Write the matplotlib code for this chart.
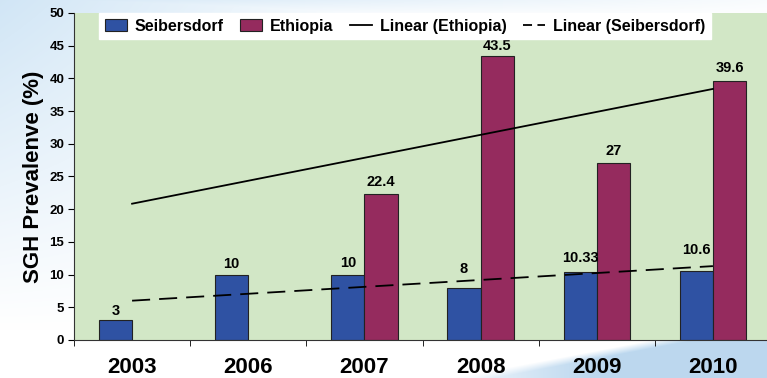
import matplotlib.pyplot as plt
import matplotlib.patches as mpatches
import matplotlib.lines as mlines
import numpy as np

years = ['2003', '2006', '2007', '2008', '2009', '2010']
seibersdorf = [3, 10, 10, 8, 10.33, 10.6]
ethiopia = [np.nan, np.nan, 22.4, 43.5, 27, 39.6]
seib_labels = ['3', '10', '10', '8', '10.33', '10.6']
eth_labels = ['', '', '22.4', '43.5', '27', '39.6']

# label offsets above the bars (points), some nudged to clear the trend line
seib_pad = [2, 2.5, 3.5, 8.5, 5, 10]
eth_pad = [0, 0, 3.5, 1.5, 4, 4]

plt.rcParams['font.family'] = ['Liberation Sans', 'DejaVu Sans']
plt.rcParams['font.weight'] = 'bold'

W, H = 767, 378
fig = plt.figure(figsize=(W / 100, H / 100), dpi=100)

# slide background: pale blue wash at top left, blue swoosh at bottom right
py, px = np.mgrid[0:H, 0:W].astype(float)
bg = np.ones((H, W, 3))
light = np.array([0.80, 0.89, 0.96])
wash = np.clip(1 - px / 420, 0, 1) * np.clip(1 - py / 330, 0, 1) * 0.9
wash = np.maximum(wash, np.clip(1 - px / 900, 0, 1) * np.clip(1 - py / 18, 0, 1) * 0.8)
bg = bg * (1 - wash[..., None]) + light * wash[..., None]
edge = 378 - (px - 450) * 0.19
swoosh = np.clip((py - edge) / 8, 0, 1) * (px > 430)
swoosh *= np.clip((px - 440) / 150, 0, 1) * 0.8 + 0.1
blue = np.array([0.71, 0.83, 0.93])
bg = bg * (1 - swoosh[..., None]) + blue * swoosh[..., None]
bgax = fig.add_axes([0, 0, 1, 1])
bgax.imshow(bg, aspect='auto', extent=[0, 1, 0, 1])
bgax.axis('off')

ax = fig.add_axes([74 / W, 1 - 340 / H, (771 - 74) / W, (340 - 13) / H])
ax.set_facecolor('#d2e7c6')

x = np.arange(len(years))
w = 0.285
ax.bar(x - w / 2, seibersdorf, w, color='#2f52a3', edgecolor='#222222', linewidth=0.8, zorder=2)
ax.bar(x + w / 2, ethiopia, w, color='#952b5e', edgecolor='#222222', linewidth=0.8, zorder=2)
for i in range(len(years)):
    ax.annotate(seib_labels[i], (x[i] - w / 2, seibersdorf[i]), xytext=(0, seib_pad[i]),
                textcoords='offset points', ha='center', va='bottom', fontsize=10.5, fontweight='bold')
    if eth_labels[i]:
        ax.annotate(eth_labels[i], (x[i] + w / 2, ethiopia[i]), xytext=(0, eth_pad[i]),
                    textcoords='offset points', ha='center', va='bottom', fontsize=10.5, fontweight='bold')

# linear trend lines over the available points
e = np.array(ethiopia, dtype=float)
ok = ~np.isnan(e)
pe = np.polyfit(x[ok], e[ok], 1)
ps = np.polyfit(x, seibersdorf, 1)
ends = np.array([x[0], x[-1]])
ax.plot(ends, np.polyval(pe, ends), color='black', linewidth=1.3, zorder=3)
ax.plot(ends, np.polyval(ps, ends), color='black', linewidth=1.3, linestyle=(0, (10, 5)), zorder=3)

ax.set_xlim(-0.5, 5.5)
ax.set_ylim(0, 50)
ax.set_yticks(range(0, 51, 5))
ax.set_xticks(x)
ax.set_xticklabels(years, fontsize=16, fontweight='bold')
ax.set_xticks(np.arange(-0.5, 6, 1), minor=True)
ax.tick_params(axis='x', which='major', length=0, pad=12)
ax.tick_params(axis='x', which='minor', length=4, direction='out')
ax.tick_params(axis='y', length=4, labelsize=9.5, pad=3)
for t in ax.get_yticklabels():
    t.set_fontweight('bold')
for side in ['top', 'right']:
    ax.spines[side].set_visible(False)
ax.spines['left'].set_color('#333333')
ax.spines['bottom'].set_color('#333333')
ax.set_ylabel('SGH Prevalenve (%)', fontsize=16, fontweight='bold', labelpad=4)

handles = [
    mpatches.Patch(facecolor='#2f52a3', edgecolor='#222222', linewidth=0.8),
    mpatches.Patch(facecolor='#952b5e', edgecolor='#222222', linewidth=0.8),
    mlines.Line2D([], [], color='black', linewidth=1.3),
    mlines.Line2D([], [], color='black', linewidth=1.3, linestyle=(0, (5, 3))),
]
names = ['Seibersdorf', 'Ethiopia', 'Linear (Ethiopia)', 'Linear (Seibersdorf)']
leg = ax.legend(handles, names, loc='upper left', bbox_to_anchor=((99 - 74) / 697, 1.0), ncol=4,
                frameon=True, fancybox=False, framealpha=1, edgecolor='white', fontsize=11.5,
                handlelength=1.4, handletextpad=0.5, columnspacing=1.0, borderpad=0.35,
                borderaxespad=0)
for t in leg.get_texts():
    t.set_fontweight('bold')

fig.savefig('out.png', dpi=100)
